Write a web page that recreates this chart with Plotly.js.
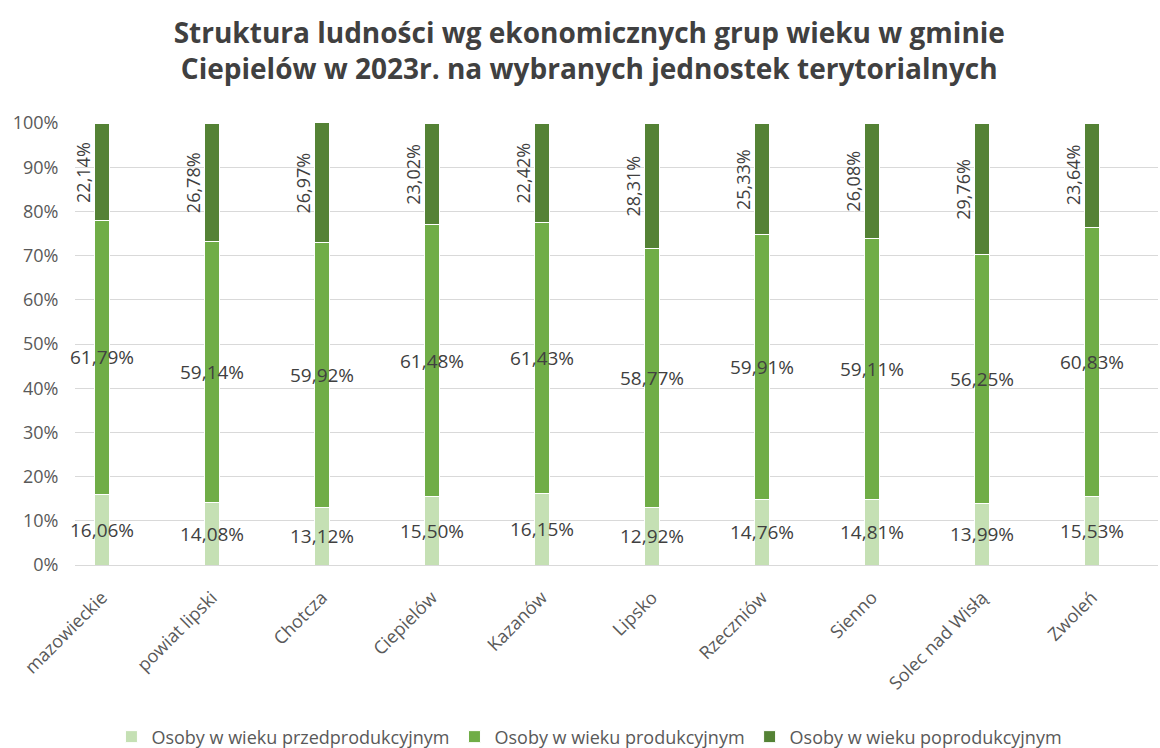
<!DOCTYPE html>
<html>
<head>
<meta charset="utf-8">
<script src="https://cdn.plot.ly/plotly-3.0.1.min.js"></script>
<style>html,body{margin:0;padding:0;background:#fff;}#chart{width:1160px;height:748px;}</style>
</head>
<body>
<div id="chart"></div>
<script>
var categories = ["mazowieckie", "powiat lipski", "Chotcza", "Ciepielów", "Kazanów", "Lipsko", "Rzeczniów", "Sienno", "Solec nad Wisłą", "Zwoleń"];
var seriesNames = ["Osoby w wieku przedprodukcyjnym", "Osoby w wieku produkcyjnym", "Osoby w wieku poprodukcyjnym"];
var przedprodukcyjny = [16.06, 14.08, 13.12, 15.50, 16.15, 12.92, 14.76, 14.81, 13.99, 15.53];
var produkcyjny = [61.79, 59.14, 59.92, 61.48, 61.43, 58.77, 59.91, 59.11, 56.25, 60.83];
var poprodukcyjny = [22.14, 26.78, 26.97, 23.02, 22.42, 28.31, 25.33, 26.08, 29.76, 23.64];
var yTickVals = [0, 10, 20, 30, 40, 50, 60, 70, 80, 90, 100];
var yTickText = ["0%", "10%", "20%", "30%", "40%", "50%", "60%", "70%", "80%", "90%", "100%"];

var colors = ["#c5e0b4", "#70ad47", "#548235"];
var series = [przedprodukcyjny, produkcyjny, poprodukcyjny];
var FONT = "Open Sans, sans-serif";

function fmt(v) { return v.toFixed(2).replace(".", ",") + "%"; }

var traces = series.map(function (vals, i) {
  return {
    type: "bar",
    name: seriesNames[i],
    x: categories,
    y: vals,
    marker: { color: colors[i], line: { color: "#ffffff", width: 1 } },
    hoverinfo: "skip"
  };
});

var annotations = [];
categories.forEach(function (c, k) {
  var base = 0;
  series.forEach(function (vals, i) {
    var mid = base + vals[k] / 2;
    base += vals[k];
    var a = {
      x: c, y: mid, xref: "x", yref: "y",
      text: fmt(vals[k]), showarrow: false,
      font: { family: FONT, size: 19, color: "#404040" }
    };
    if (i === 2) { a.textangle = -90; a.xshift = -19; a.font.size = 18; }
    annotations.push(a);
  });
});

var layout = {
  width: 1160, height: 748,
  paper_bgcolor: "#ffffff", plot_bgcolor: "#ffffff",
  margin: { l: 75, r: 2, t: 123, b: 183, autoexpand: false },
  barmode: "stack",
  bargap: 0.87,
  title: {
    text: "Struktura ludności wg ekonomicznych grup wieku w gminie<br>Ciepielów w 2023r. na wybranych jednostek terytorialnych",
    font: { family: FONT, size: 28, color: "#404040", weight: "bold" },
    x: 0.508, xanchor: "center", y: 1 - 43 / 748, yanchor: "middle", yref: "container"
  },
  xaxis: {
    type: "category",
    automargin: false,
    range: [-0.245, 9.6],
    tickangle: -45,
    tickfont: { family: FONT, size: 18, color: "#595959" },
    ticks: "outside", ticklen: 14, tickcolor: "rgba(0,0,0,0)",
    showgrid: false, zeroline: false, showline: true, linecolor: "#d9d9d9", linewidth: 1
  },
  yaxis: {
    automargin: false,
    range: [0, 100],
    tickvals: yTickVals, ticktext: yTickText,
    tickfont: { family: FONT, size: 18, color: "#595959" },
    ticks: "outside", ticklen: 12, tickcolor: "rgba(0,0,0,0)",
    showgrid: true, gridcolor: "#d9d9d9", gridwidth: 1,
    zeroline: false, showline: false
  },
  legend: {
    orientation: "h", x: 0.475, xanchor: "center", y: -0.389, yanchor: "middle",
    font: { family: FONT, size: 18, color: "#595959" },
    traceorder: "normal"
  },
  annotations: annotations,
  showlegend: true
};

Plotly.newPlot("chart", traces, layout, { displayModeBar: false, staticPlot: true });
</script>
</body>
</html>
